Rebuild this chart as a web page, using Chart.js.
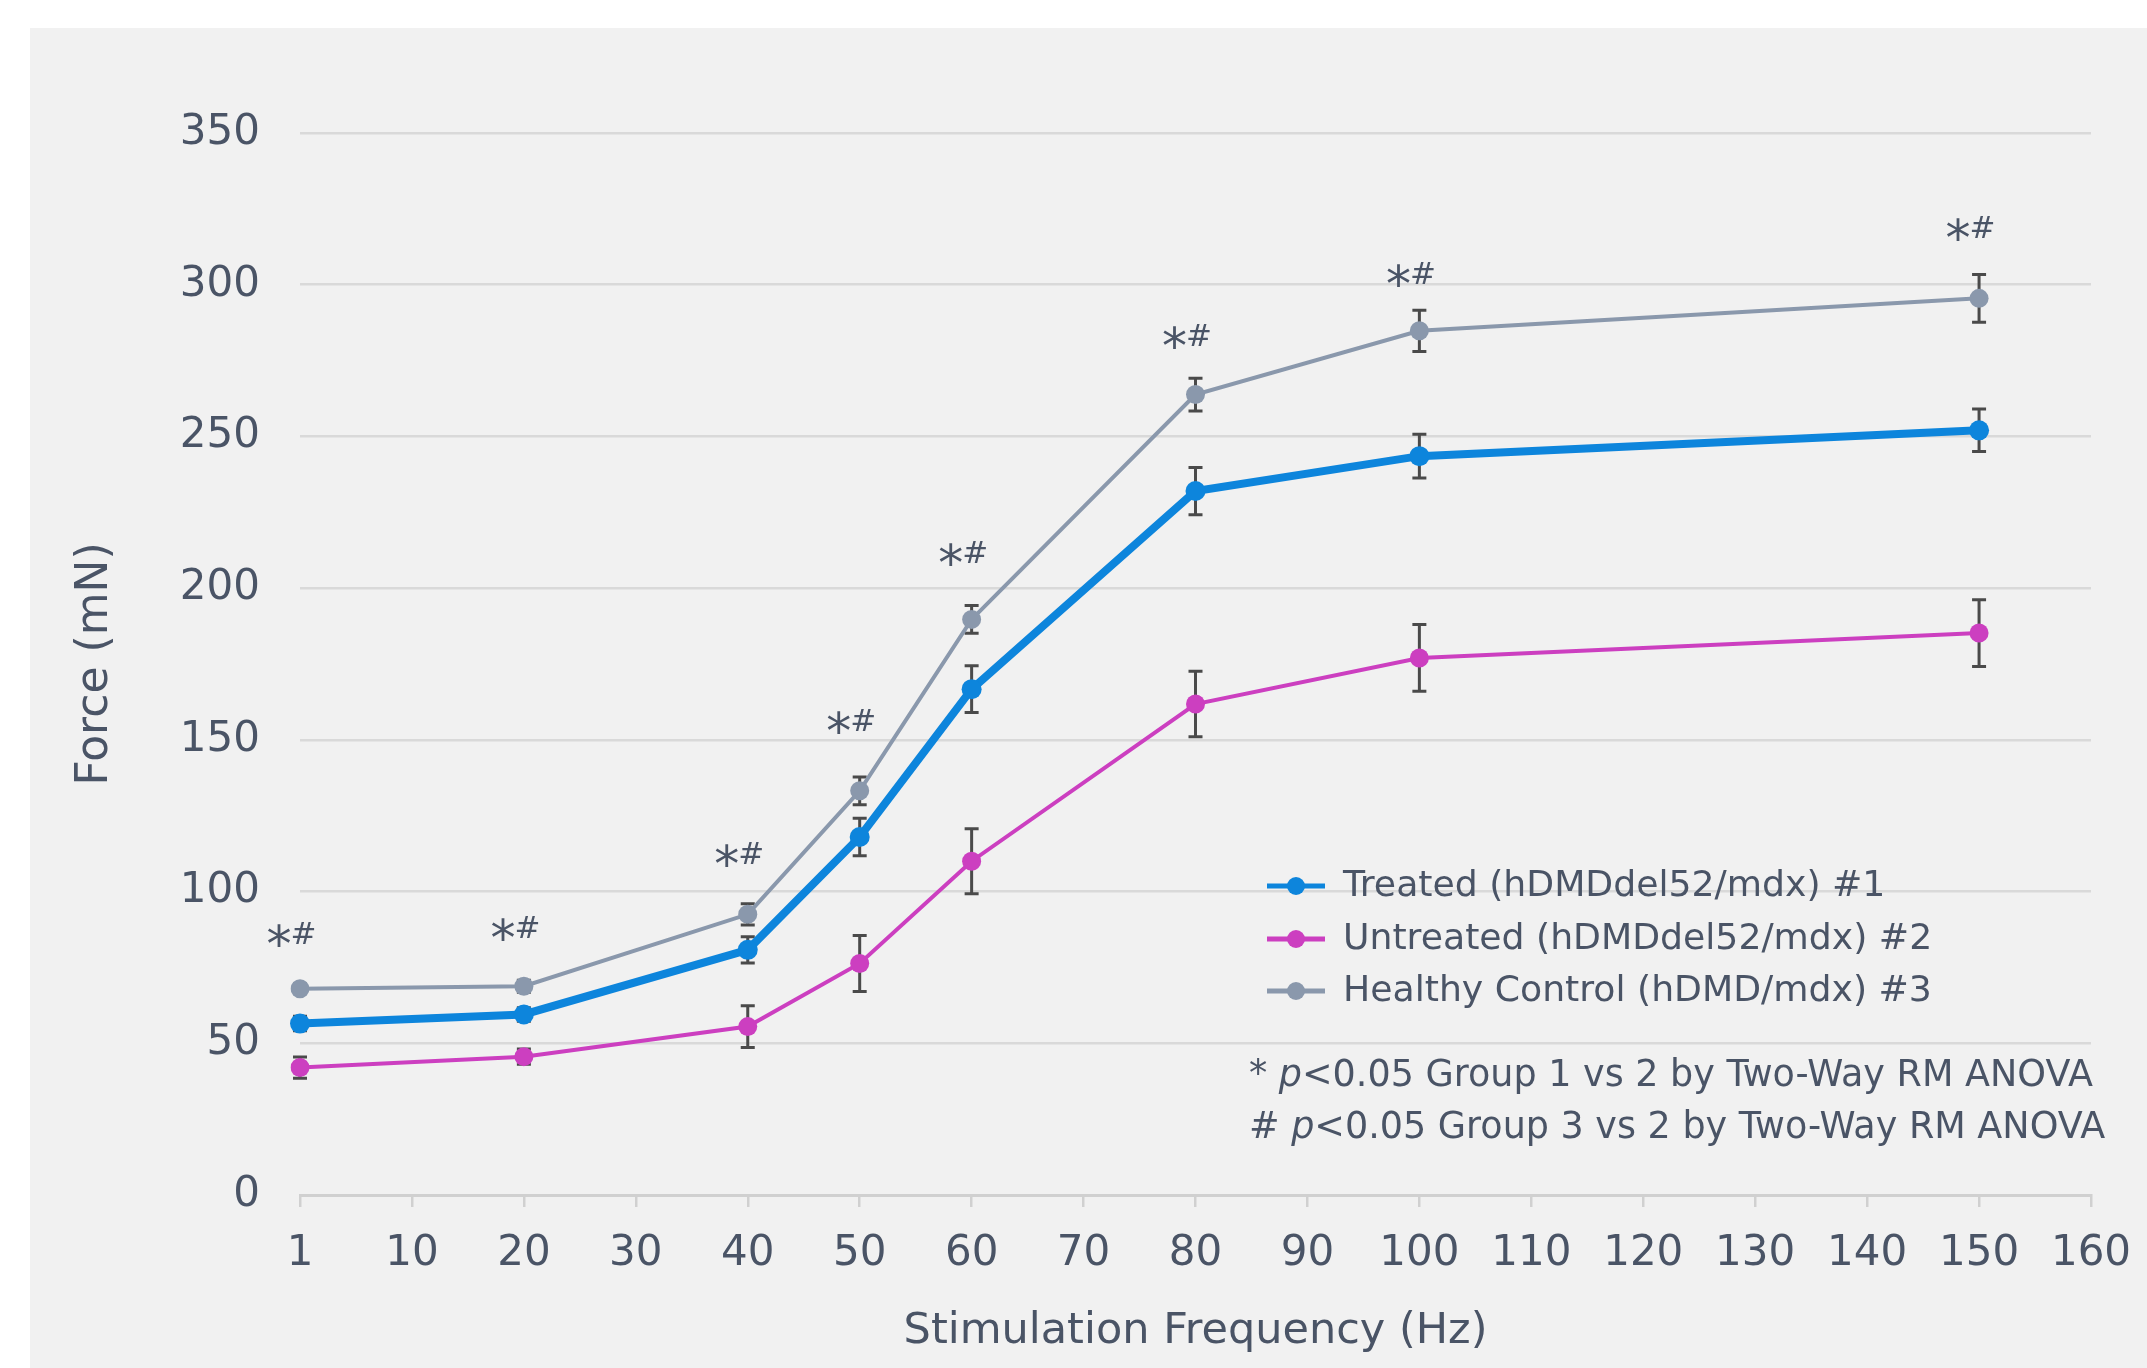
<!DOCTYPE html>
<html>
<head>
<meta charset="utf-8">
<script src="https://cdn.jsdelivr.net/npm/chart.js@4.4.1/dist/chart.umd.min.js"></script>
<style>
  html, body { margin: 0; padding: 0; background: #ffffff; }
  #wrap { width: 2147px; height: 1368px; }
</style>
</head>
<body>
<div id="wrap"><canvas id="forceChart" width="2147" height="1368"></canvas></div>
<script>
// Tick labels of the frequency axis (evenly spaced)
const frequencyTicks = ['1', '10', '20', '30', '40', '50', '60', '70', '80', '90',
                        '100', '110', '120', '130', '140', '150', '160'];

// Stimulation frequencies that were measured (Hz)
const frequencies = [1, 20, 40, 50, 60, 80, 100, 150];

// Mean force (mN) and standard error per group
const treatedForce   = [56.5, 59.5, 80.8, 118.0, 166.7, 232.0, 243.5, 252.0];
const treatedErr     = [2.4, 2.2, 4.3, 6.2, 7.7, 7.8, 7.2, 7.0];
const untreatedForce = [42.0, 45.6, 55.5, 76.3, 110.0, 161.8, 177.0, 185.2];
const untreatedErr   = [3.5, 2.5, 6.9, 9.2, 10.7, 10.8, 11.0, 11.0];
const healthyForce   = [68.0, 68.8, 92.5, 133.2, 189.7, 263.8, 284.8, 295.5];
const healthyErr     = [1.5, 2.0, 3.5, 4.6, 4.6, 5.4, 6.8, 7.9];

// Significance markers: frequency and the force level where "*#" sits
const sigFrequencies = [1, 20, 40, 50, 60, 80, 100, 150];
const sigLevels      = [85.5, 87.4, 111.7, 155.5, 210.8, 282.4, 302.8, 318.0];

const seriesNames = ['Treated (hDMDdel52/mdx) #1',
                     'Untreated (hDMDdel52/mdx) #2',
                     'Healthy Control (hDMD/mdx) #3'];

const footnotes = [
  { mark: '*', rest: '<0.05 Group 1 vs 2 by Two-Way RM ANOVA' },
  { mark: '#', rest: '<0.05 Group 3 vs 2 by Two-Way RM ANOVA' }
];

const FONT = "'DejaVu Sans', Verdana, sans-serif";
const TEXT = '#4a5466';
const GRID = '#d9d9d9';

const toPoints = (vals) => frequencies.map((f, i) => ({ x: String(f), y: vals[i] }));

// Light grey panel behind the plot
const panelPlugin = {
  id: 'panel',
  beforeDraw(chart) {
    const ctx = chart.ctx;
    ctx.save();
    ctx.fillStyle = '#ffffff';
    ctx.fillRect(0, 0, chart.width, chart.height);
    ctx.fillStyle = '#f1f1f1';
    ctx.fillRect(30, 28, chart.width - 30, chart.height - 28);
    ctx.restore();
  }
};

// Vertical error bars with caps, drawn under the lines and markers
const errorBarPlugin = {
  id: 'errorBars',
  beforeDatasetsDraw(chart) {
    const { ctx, scales: { y } } = chart;
    ctx.save();
    ctx.strokeStyle = '#4a4a4a';
    ctx.lineWidth = 3;
    chart.data.datasets.forEach((ds, i) => {
      const meta = chart.getDatasetMeta(i);
      ds.errors.forEach((err, j) => {
        const pt = meta.data[j];
        const v = ds.data[j].y;
        const top = y.getPixelForValue(v + err);
        const bot = y.getPixelForValue(v - err);
        const cap = 7;
        ctx.beginPath();
        ctx.moveTo(pt.x, top); ctx.lineTo(pt.x, bot);
        ctx.moveTo(pt.x - cap, top); ctx.lineTo(pt.x + cap, top);
        ctx.moveTo(pt.x - cap, bot); ctx.lineTo(pt.x + cap, bot);
        ctx.stroke();
      });
    });
    ctx.restore();
  }
};

// "*#" significance labels above each frequency
const significancePlugin = {
  id: 'significance',
  afterDatasetsDraw(chart) {
    const { ctx, scales: { x, y } } = chart;
    ctx.save();
    ctx.fillStyle = TEXT;
    ctx.textBaseline = 'alphabetic';
    ctx.textAlign = 'left';
    const starFont = '50px ' + FONT;
    const hashFont = '31px ' + FONT;
    ctx.font = starFont; const ws = ctx.measureText('*').width;
    ctx.font = hashFont; const wh = ctx.measureText('#').width;
    sigFrequencies.forEach((f, i) => {
      const cx = x.getPixelForValue(x.getLabels().indexOf(String(f))) - 8;
      const cy = y.getPixelForValue(sigLevels[i]);
      const left = cx - (ws + wh) / 2;
      ctx.font = starFont;
      ctx.fillText('*', left, cy + 25);
      ctx.font = hashFont;
      ctx.fillText('#', left + ws - 1, cy + 8);
    });
    ctx.restore();
  }
};

// Legend and footnotes inside the lower right of the plot
const legendNotesPlugin = {
  id: 'legendNotes',
  afterDraw(chart) {
    const ctx = chart.ctx;
    ctx.save();
    const rows = [886, 939, 991];
    chart.data.datasets.forEach((ds, i) => {
      const yy = rows[i];
      ctx.strokeStyle = ds.borderColor;
      ctx.lineWidth = 5;
      ctx.beginPath();
      ctx.moveTo(1267, yy); ctx.lineTo(1325, yy);
      ctx.stroke();
      ctx.fillStyle = ds.borderColor;
      ctx.beginPath();
      ctx.arc(1296, yy, 9, 0, Math.PI * 2);
      ctx.fill();
      ctx.fillStyle = TEXT;
      ctx.font = '36.2px ' + FONT;
      ctx.textBaseline = 'middle';
      ctx.textAlign = 'left';
      ctx.fillText(ds.label, 1343, yy + 1);
    });
    const noteRows = [1077, 1129];
    footnotes.forEach((n, i) => {
      let xx = 1249;
      const yy = noteRows[i];
      ctx.fillStyle = TEXT;
      ctx.textBaseline = 'middle';
      ctx.font = '36.5px ' + FONT;
      const head = n.mark + ' ';
      ctx.fillText(head, xx, yy);
      xx += ctx.measureText(head).width;
      ctx.font = 'italic 36.5px ' + FONT;
      ctx.fillText('p', xx, yy);
      xx += ctx.measureText('p').width;
      ctx.font = '36.5px ' + FONT;
      ctx.fillText(n.rest, xx, yy);
    });
    ctx.restore();
  }
};

new Chart(document.getElementById('forceChart'), {
  type: 'line',
  data: {
    labels: frequencyTicks,
    datasets: [
      {
        label: seriesNames[0],
        data: toPoints(treatedForce),
        errors: treatedErr,
        borderColor: '#0d85dc',
        backgroundColor: '#0d85dc',
        borderWidth: 8,
        pointRadius: 10,
        pointBorderWidth: 0,
        tension: 0
      },
      {
        label: seriesNames[1],
        data: toPoints(untreatedForce),
        errors: untreatedErr,
        borderColor: '#cc3fc0',
        backgroundColor: '#cc3fc0',
        borderWidth: 4,
        pointRadius: 9.5,
        pointBorderWidth: 0,
        tension: 0
      },
      {
        label: seriesNames[2],
        data: toPoints(healthyForce),
        errors: healthyErr,
        borderColor: '#8a98ac',
        backgroundColor: '#8a98ac',
        borderWidth: 4,
        pointRadius: 9.5,
        pointBorderWidth: 0,
        tension: 0
      }
    ]
  },
  options: {
    responsive: false,
    animation: false,
    devicePixelRatio: 1,
    layout: { padding: { top: 133, right: 56, left: 0, bottom: 0 } },
    plugins: {
      legend: { display: false },
      tooltip: { enabled: false }
    },
    scales: {
      x: {
        type: 'category',
        offset: false,
        afterFit(scale) { scale.height = 173; scale.paddingLeft = 0; scale.paddingRight = 0; },
        border: { display: true, color: '#d0d0d0', width: 3 },
        grid: { display: true, drawOnChartArea: false, drawTicks: true, tickLength: 12,
                color: '#d0d0d0', lineWidth: 2.5 },
        ticks: { autoSkip: false, maxRotation: 0, padding: 22, color: TEXT,
                 font: { family: FONT, size: 42 } },
        title: { display: true, text: 'Stimulation Frequency (Hz)', color: TEXT,
                 font: { family: FONT, size: 43 }, padding: { top: 0, bottom: 10 } }
      },
      y: {
        min: 0,
        max: 350,
        afterFit(scale) { scale.width = 300; },
        border: { display: false },
        grid: { color: GRID, lineWidth: 2.5, drawTicks: false },
        ticks: { stepSize: 50, padding: 40, color: TEXT,
                 font: { family: FONT, size: 42 } },
        title: { display: true, text: 'Force (mN)', color: TEXT,
                 font: { family: FONT, size: 44 }, padding: { top: 69, bottom: 0 } }
      }
    }
  },
  plugins: [panelPlugin, errorBarPlugin, significancePlugin, legendNotesPlugin]
});
</script>
</body>
</html>
